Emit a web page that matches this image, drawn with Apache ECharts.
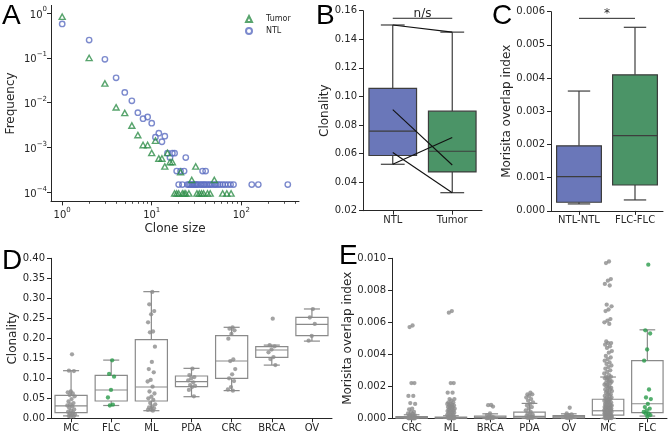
<!DOCTYPE html>
<html><head><meta charset="utf-8">
<script src="https://cdn.jsdelivr.net/npm/echarts@6/dist/echarts.min.js"></script>
<style>html,body{margin:0;padding:0;background:#fff}#c{width:669px;height:435px}</style>
</head><body><div id="c"></div>
<script>
// ---------- Panel A: clone size distribution ----------
const ntlSize = [1,2,3,4,5,6,7,8,9,10,11,12,13,14,15,16,17,18,19,21,23,37,40,22,24,
  20,25,26,27,28,29,30,31,32,33,35,36,38,39,41,43,45,47,50,52,55,58,62,66,71,76,82,131,155,331];
const ntlFreq = [0.57,0.25,0.093,0.036,0.017,0.011,0.006,0.0044,0.0048,0.0035,0.0017,0.0021,0.00135,0.0018,0.00075,0.0006,0.00075,0.00075,0.0003,0.0003,0.0003,0.0003,0.0003,0.00015,0.0006,
  0.00015,0.00015,0.00015,0.00015,0.00015,0.00015,0.00015,0.00015,0.00015,0.00015,0.00015,0.00015,0.00015,0.00015,0.00015,0.00015,0.00015,0.00015,0.00015,0.00015,0.00015,0.00015,0.00015,0.00015,0.00015,0.00015,0.00015,0.00015,0.00015,0.00015];
const tumorSize = [1,2,3,4,5,6,7,8,9,10,11,12,13,14,15,16,17,21,28,31,50,
  18,19,20,22,23,24,26,32,34,36,38,42,45,62,69,77];
const tumorFreq = [0.83,0.10,0.027,0.0079,0.0059,0.0031,0.0019,0.00114,0.00114,0.00076,0.00143,0.00057,0.00057,0.00038,0.00076,0.000475,0.000475,0.000285,0.00019,0.00038,0.00019,
  0.000095,0.000095,0.000095,0.000095,0.000095,0.000095,0.000095,0.000095,0.000095,0.000095,0.000095,0.000095,0.000095,0.000095,0.000095,0.000095];
const aXMajor = [1, 10, 100];
const aXMinor = [2,3,4,5,6,7,8,9,20,30,40,50,60,70,80,90,200,300,400];
const aYMajor = [1, 0.1, 0.01, 0.001, 0.0001];

// ---------- Panel B: paired clonality ----------
const bCategories = ['NTL', 'Tumor'];
const bNTL   = [0.150, 0.0908, 0.0607, 0.0525];
const bTumor = [0.145, 0.0520, 0.0326, 0.0712];
const bBracket = [0.1547];
const bBracketText = 'n/s';

// ---------- Panel C: Morisita overlap ----------
const cCategories = ['NTL-NTL', 'FLC-FLC'];
const cLow  = [0.00021, 0.00033];
const cQ1   = [0.00026, 0.00078];
const cMed  = [0.00103, 0.002265];
const cQ3   = [0.00196, 0.00410];
const cHigh = [0.00361, 0.00553];
const cBracket = [0.0058];
const cBracketText = '*';

// ---------- Panel D: clonality by cancer type ----------
const dCategories = ['MC','FLC','ML','PDA','CRC','BRCA','OV'];
const dLow  = [0.006, 0.032, 0.019, 0.054, 0.0692, 0.133, 0.193];
const dQ1   = [0.014, 0.0433, 0.0433, 0.079, 0.0999, 0.1525, 0.2066];
const dMed  = [0.031, 0.0708, 0.0783, 0.0917, 0.1433, 0.1708, 0.235];
const dQ3   = [0.0575, 0.1075, 0.1966, 0.1058, 0.2066, 0.1791, 0.2525];
const dHigh = [0.119, 0.1455, 0.3166, 0.1249, 0.2275, 0.183, 0.2733];
const dMC   = [0.160,0.119,0.118,0.067,0.065,0.062,0.058,0.055,0.048,0.042,0.038,0.035,0.032,0.030,0.026,0.022,0.019,0.016,0.014,0.012,0.010,0.008,0.006,0.005,0.004];
const dFLC  = [0.145,0.111,0.104,0.071,0.052,0.034,0.032];
const dML   = [0.316,0.285,0.268,0.260,0.240,0.217,0.215,0.179,0.141,0.123,0.115,0.096,0.092,0.079,0.067,0.062,0.054,0.050,0.046,0.038,0.035,0.030,0.027,0.025,0.022,0.021,0.019];
const dPDA  = [0.124,0.108,0.103,0.100,0.095,0.090,0.083,0.081,0.078,0.071,0.055];
const dCRC  = [0.227,0.224,0.220,0.211,0.199,0.147,0.143,0.123,0.110,0.100,0.093,0.078,0.072,0.069];
const dBRCA = [0.249,0.183,0.180,0.172,0.165,0.153,0.148,0.133];
const dOV   = [0.273,0.252,0.236,0.206,0.194];

// ---------- Panel E: Morisita overlap by cancer type ----------
const eCategories = ['CRC','ML','BRCA','PDA','OV','MC','FLC'];
const eLow  = [0, 0, 0, 0, 0, 0, 0.00014];
const eQ1   = [0.00001, 0.00001, 0.00002, 0.00003, 0.00003, 0.0002, 0.00035];
const eMed  = [0.00004, 0.00003, 0.00006, 0.00012, 0.0001, 0.00047, 0.00091];
const eQ3   = [0.0001, 0.00007, 0.00014, 0.00038, 0.00017, 0.00119, 0.0036];
const eHigh = [0.00022, 0.00016, 0.00028, 0.00093, 0.00028, 0.00258, 0.00553];
const eCRC  = [0.0058,0.0057,0.0022,0.0022,0.0014,0.0014,0.00095,0.0009,0.0006,0.00055,0.0004,0.00038,0.0003,0.00028,0.00022,0.0002,0.00015,0.00012,0.0001,0.00008,0.00006,0.00005,0.00004,0.00003,0.00002,0.00002,0.00001,0.00001,0,0,0,0];
const eML   = [0.0067,0.0066,0.0022,0.0022,0.0016,0.0016,0.0012,0.0012,0.0011,0.001,0.001,0.0009,0.0009,0.00085,0.0008,0.0008,0.00075,0.0007,0.0007,0.00065,0.0006,0.0006,0.00055,0.0005,0.0005,0.00045,0.0004,0.0004,0.00035,0.0003,0.0003,0.00025,0.0002,0.0002,0.00015,0.0001,0.0001,0.00005,0.00005,0.00002,0.00002,0.00001,0,0,0,0];
const eBRCA = [0.00083,0.00082,0.00073,0.0003,0.0002,0.0001,0.00008,0.00005,0.00003,0.00002,0.00001,0,0];
const ePDA  = [0.0016,0.0015,0.0015,0.0014,0.0013,0.0012,0.0011,0.001,0.0009,0.0008,0.0007,0.0006,0.0005,0.0004,0.0003,0.00025,0.0002,0.00015,0.0001,0.0001,0.00008,0.00005,0.00003,0.00002,0.00001];
const eOV   = [0.00066,0.0003,0.00025,0.0002,0.00015,0.0001,0.0001,0.00008,0.00005,0.00003,0.00002,0.00001];
const eMC   = [0.0098,0.0097,0.0087,0.0086,0.0084,0.0083,0.0071,0.0070,0.0068,0.0067,0.0062,0.0061,0.0060,0.0059,
  0.0048,0.0047,0.0047,0.0046,0.0045,0.0044,0.0042,0.0041,0.0039,0.0038,0.0037,0.0036,0.0035,0.0034,0.0033,0.0032,0.0031,0.0030,0.0029,0.0028,0.0027,
  0.0026,0.0026,0.0025,0.0025,0.0024,0.0024,0.0023,0.0023,0.0022,0.0022,0.0021,0.0021,0.0020,0.0020,0.0019,0.0019,0.0018,0.0018,0.0017,0.0017,0.0016,0.0016,
  0.0015,0.0015,0.0014,0.0014,0.0013,0.0013,0.0012,0.0012,0.0012,0.0011,0.0011,0.0011,0.0010,0.0010,0.0010,0.0009,0.0009,0.0009,0.0008,0.0008,0.0008,0.0008,
  0.0007,0.0007,0.0007,0.0007,0.0006,0.0006,0.0006,0.0006,0.0005,0.0005,0.0005,0.0005,0.0005,0.0004,0.0004,0.0004,0.0004,0.0004,0.0003,0.0003,0.0003,0.0003,0.0003,
  0.0002,0.0002,0.0002,0.0002,0.0002,0.0001,0.0001,0.0001,0.0001,0.0001,0.00005,0.00005,0.00005,0.00002,0.00002,0.00001,0.00001,0];
const eFLC  = [0.0096,0.0055,0.0053,0.0043,0.0036,0.0018,0.0013,0.0012,0.0009,0.0007,0.0006,0.0005,0.0004,0.0003,0.0003,0.0002,0.0001];

// ---------- styling ----------
const FONT = 'DejaVu Sans';
const AX = '#262626';
const BLUE_FILL = '#6a77b9', GREEN_FILL = '#4b9467', BOX_EDGE = '#3d3d3d';
const NTL_C = '#5b6dc0', TUMOR_C = '#2e8d49';
const GRAY_PT = '#8c8c8c', GREEN_PT = '#2b9b4b', GRAY_BOX = '#8a8a8a';

function quantile(arr, p) {
  const a = arr.slice().sort((x, y) => x - y);
  const h = (a.length - 1) * p, lo = Math.floor(h), e = h - lo;
  return lo + 1 < a.length ? a[lo] + e * (a[lo + 1] - a[lo]) : a[lo];
}
function boxStats(arr) {
  const q1 = quantile(arr, 0.25), med = quantile(arr, 0.5), q3 = quantile(arr, 0.75);
  const iqr = q3 - q1;
  const inside = arr.filter(v => v >= q1 - 1.5 * iqr && v <= q3 + 1.5 * iqr);
  return [Math.min(...inside), q1, med, q3, Math.max(...inside)];
}
function jit(i) { return 0.1 * ((((i + 1) * 0.6180339887) % 1) * 2 - 1); }

function boxRender(fills, stroke, lw) {
  return function (params, api) {
    const x = api.value(0);
    const pL = api.coord([x, api.value(1)]), p1 = api.coord([x, api.value(2)]),
          pM = api.coord([x, api.value(3)]), p3 = api.coord([x, api.value(4)]),
          pH = api.coord([x, api.value(5)]);
    const w = api.size([0.8, 0])[0];
    const cx = pM[0];
    const ls = { stroke: stroke, lineWidth: lw, fill: null };
    return { type: 'group', children: [
      { type: 'line', shape: { x1: cx, y1: p1[1], x2: cx, y2: pL[1] }, style: ls },
      { type: 'line', shape: { x1: cx, y1: p3[1], x2: cx, y2: pH[1] }, style: ls },
      { type: 'line', shape: { x1: cx - w / 4, y1: pL[1], x2: cx + w / 4, y2: pL[1] }, style: ls },
      { type: 'line', shape: { x1: cx - w / 4, y1: pH[1], x2: cx + w / 4, y2: pH[1] }, style: ls },
      { type: 'rect', shape: { x: cx - w / 2, y: p3[1], width: w, height: p1[1] - p3[1] },
        style: { fill: fills[params.dataIndex] || 'rgba(0,0,0,0)', stroke: stroke, lineWidth: lw } },
      { type: 'line', shape: { x1: cx - w / 2, y1: pM[1], x2: cx + w / 2, y2: pM[1] }, style: ls }
    ]};
  };
}
function bracketRender(text) {
  return function (params, api) {
    const a = api.coord([api.value(0), api.value(2)]);
    const b = api.coord([api.value(1), api.value(2)]);
    return { type: 'group', children: [
      { type: 'line', shape: { x1: a[0], y1: a[1], x2: b[0], y2: b[1] }, style: { stroke: AX, lineWidth: 1 } },
      { type: 'text', style: { text: text, x: (a[0] + b[0]) / 2, y: a[1] + 1.5, align: 'center', verticalAlign: 'bottom',
        font: '12px "DejaVu Sans"', fill: AX } }
    ]};
  };
}

const axLine = { show: true, onZero: false, lineStyle: { color: AX, width: 1 } };
const tickSt = { color: AX, width: 1 };
const lblSt = { fontFamily: FONT, fontSize: 10, color: AX };
const nameSt = { fontFamily: FONT, fontSize: 12, color: AX };

function yVal(gi, min, max, interval, digits, name, gap) {
  return { type: 'value', gridIndex: gi, min, max, interval, name, nameLocation: 'middle', nameGap: gap, nameRotate: 90,
    nameTextStyle: nameSt, axisLine: axLine, axisTick: { show: true, length: 4, lineStyle: tickSt },
    axisLabel: Object.assign({ margin: 6, formatter: v => v.toFixed(digits) }, lblSt), splitLine: { show: false } };
}
function xCat(gi, names) {
  const idx = names.map((_, i) => i);
  return { type: 'value', gridIndex: gi, min: -0.5, max: names.length - 0.5,
    axisLine: axLine, axisTick: { show: true, length: 4, customValues: idx, lineStyle: tickSt },
    axisLabel: Object.assign({ margin: 5, customValues: idx, formatter: v => names[Math.round(v)] }, lblSt),
    splitLine: { show: false } };
}
const supRich = {
  b: { fontFamily: FONT, fontSize: 10, color: AX, lineHeight: 14, verticalAlign: 'bottom' },
  s: { fontFamily: FONT, fontSize: 7, color: AX, lineHeight: 8, verticalAlign: 'top' }
};
function powLabel(v) {
  const e = Math.round(v);
  return '{b|10}{s|' + (e < 0 ? '\u2212' + (-e) : e) + '}';
}

// ---------- build series ----------
const series = [];
series.push({ name: 'NTL', type: 'scatter', xAxisIndex: 0, yAxisIndex: 0, symbol: 'circle', symbolSize: 5.4,
  itemStyle: { color: 'rgba(0,0,0,0)', borderColor: NTL_C, borderWidth: 1.4 },
  data: ntlSize.map((s, i) => [Math.log10(s), Math.log10(ntlFreq[i])]) });
series.push({ name: 'Tumor', type: 'scatter', xAxisIndex: 0, yAxisIndex: 0, symbol: 'triangle', symbolSize: [6, 5.4],
  itemStyle: { color: 'rgba(0,0,0,0)', borderColor: TUMOR_C, borderWidth: 1.4 },
  data: tumorSize.map((s, i) => [Math.log10(s), Math.log10(tumorFreq[i])]) });

// B
const bStats = [boxStats(bNTL), boxStats(bTumor)];
series.push({ type: 'custom', xAxisIndex: 2, yAxisIndex: 1, renderItem: boxRender([BLUE_FILL, GREEN_FILL], BOX_EDGE, 1.2),
  encode: { x: 0, y: [1, 2, 3, 4, 5] }, data: bStats.map((s, i) => [i].concat(s)) });
bNTL.forEach((v, i) => series.push({ type: 'line', xAxisIndex: 2, yAxisIndex: 1, symbol: 'none', silent: true,
  lineStyle: { color: '#111', width: 1.1 }, data: [[0, v], [1, bTumor[i]]] }));
series.push({ type: 'custom', xAxisIndex: 2, yAxisIndex: 1, renderItem: bracketRender(bBracketText),
  encode: { x: [0, 1], y: 2 }, data: [[0, 1, bBracket[0]]] });

// C
series.push({ type: 'custom', xAxisIndex: 3, yAxisIndex: 2, renderItem: boxRender([BLUE_FILL, GREEN_FILL], BOX_EDGE, 1.2),
  encode: { x: 0, y: [1, 2, 3, 4, 5] }, data: cCategories.map((c, i) => [i, cLow[i], cQ1[i], cMed[i], cQ3[i], cHigh[i]]) });
series.push({ type: 'custom', xAxisIndex: 3, yAxisIndex: 2, renderItem: bracketRender(cBracketText),
  encode: { x: [0, 1], y: 2 }, data: [[0, 1, cBracket[0]]] });

// D
series.push({ type: 'custom', xAxisIndex: 4, yAxisIndex: 3, renderItem: boxRender([], GRAY_BOX, 1.2),
  encode: { x: 0, y: [1, 2, 3, 4, 5] }, data: dCategories.map((c, i) => [i, dLow[i], dQ1[i], dMed[i], dQ3[i], dHigh[i]]) });
[dMC, dFLC, dML, dPDA, dCRC, dBRCA, dOV].forEach((arr, ci) => series.push({ type: 'scatter', xAxisIndex: 4, yAxisIndex: 3,
  symbolSize: 4.3, itemStyle: { color: dCategories[ci] === 'FLC' ? GREEN_PT : GRAY_PT },
  data: arr.map((v, i) => [ci + jit(i), v]) }));

// E
series.push({ type: 'custom', xAxisIndex: 5, yAxisIndex: 4, renderItem: boxRender([], GRAY_BOX, 1.2),
  encode: { x: 0, y: [1, 2, 3, 4, 5] }, data: eCategories.map((c, i) => [i, eLow[i], eQ1[i], eMed[i], eQ3[i], eHigh[i]]) });
[eCRC, eML, eBRCA, ePDA, eOV, eMC, eFLC].forEach((arr, ci) => series.push({ type: 'scatter', xAxisIndex: 5, yAxisIndex: 4,
  symbolSize: 4.3, itemStyle: { color: eCategories[ci] === 'FLC' ? GREEN_PT : GRAY_PT },
  data: arr.map((v, i) => [ci + jit(i), v]) }));

function letter(t, x, y) {
  return { type: 'text', x: x, y: y, style: { text: t, font: '28px "Liberation Sans"', fill: '#000', align: 'left', verticalAlign: 'middle' } };
}

const option = {
  animation: false,
  backgroundColor: '#fff',
  grid: [
    { left: 51, top: 5.4, width: 248, height: 196 },
    { left: 363, top: 10.7, width: 119, height: 200 },
    { left: 551, top: 11.7, width: 112, height: 199.2 },
    { left: 51, top: 258.3, width: 281, height: 160 },
    { left: 392, top: 258.3, width: 275, height: 160 }
  ],
  legend: { data: ['Tumor', 'NTL'], orient: 'vertical', left: 245, top: 15, padding: 0, itemWidth: 6, itemHeight: 6, itemGap: 4,
    textStyle: { fontFamily: FONT, fontSize: 8, color: AX, padding: [0, 0, 0, 9] } },
  xAxis: [
    { type: 'value', gridIndex: 0, min: -0.125, max: 2.645, name: 'Clone size', nameLocation: 'middle', nameGap: 21,
      nameTextStyle: nameSt, axisLine: axLine,
      axisTick: { show: true, length: 4, customValues: aXMajor.map(Math.log10), lineStyle: tickSt },
      axisLabel: { margin: 5, customValues: aXMajor.map(Math.log10), formatter: powLabel, rich: supRich },
      splitLine: { show: false } },
    { type: 'value', gridIndex: 0, min: -0.125, max: 2.645, position: 'bottom',
      axisLine: { show: false, onZero: false },
      axisTick: { show: true, length: 2.4, customValues: aXMinor.map(Math.log10), lineStyle: { color: AX, width: 0.8 } },
      axisLabel: { show: false }, splitLine: { show: false } },
    xCat(1, bCategories),
    xCat(2, cCategories),
    xCat(3, dCategories),
    xCat(4, eCategories)
  ],
  yAxis: [
    { type: 'value', gridIndex: 0, min: -4.2, max: 0.17, name: 'Frequency', nameLocation: 'middle', nameGap: 34, nameRotate: 90,
      nameTextStyle: nameSt, axisLine: axLine,
      axisTick: { show: true, length: 4, customValues: aYMajor.map(Math.log10), lineStyle: tickSt },
      axisLabel: { margin: 4, customValues: aYMajor.map(Math.log10), formatter: powLabel, rich: supRich },
      splitLine: { show: false } },
    yVal(1, 0.02, 0.16, 0.02, 2, 'Clonality', 32),
    yVal(2, 0, 0.006, 0.001, 3, 'Morisita overlap index', 37),
    yVal(3, 0, 0.4, 0.05, 2, 'Clonality', 30),
    yVal(4, 0, 0.01, 0.002, 3, 'Morisita overlap index', 31)
  ],
  graphic: [letter('A', 2, 16), letter('B', 316, 16), letter('C', 492, 16), letter('D', 2, 261), letter('E', 339, 256)],
  series: series
};
const chart = echarts.init(document.getElementById('c'), null, { renderer: 'canvas' });
chart.setOption(option);
</script></body></html>
